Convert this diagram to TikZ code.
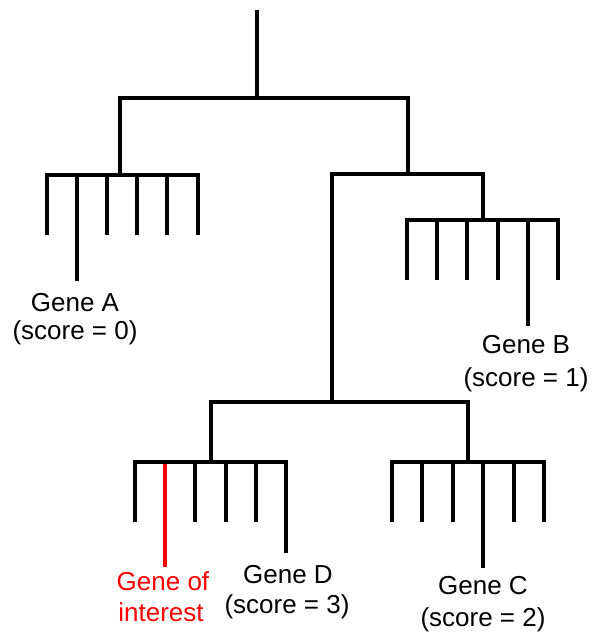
\documentclass[tikz,border=0pt]{standalone}
\usepackage{fontspec}
\setmainfont{Liberation Sans}
\tikzset{
  branch/.style={draw=black, line width=4pt, line join=miter, line cap=butt},
  hlbranch/.style={draw=red, line width=4pt, line cap=butt},
  lbl/.style={font=\fontsize{26}{30}\selectfont, inner sep=0pt, anchor=base},
  hllbl/.style={lbl, text=red},
}
% a comb of six leaves hanging from a bar; #1 = left x, #2 = spacing, #3 = bar y, #4 = leaf end y
\newcommand{\leafcomb}[4]{%
  \draw[branch] (#1,#4) -- (#1,#3) -- ({#1+5*#2},#3) -- ({#1+5*#2},#4);
  \foreach \k in {1,...,4} \draw[branch] ({#1+\k*#2},#3) -- ({#1+\k*#2},#4);
}
\begin{document}
\begin{tikzpicture}[x=1pt, y=-1pt]
\useasboundingbox (0,0) rectangle (594,633);

% internal nodes of the tree
\coordinate (top)   at (257,10);
\coordinate (root)  at (257,98);
\coordinate (cA)    at (120,175);
\coordinate (n2)    at (408,174);
\coordinate (cB)    at (483,220);
\coordinate (n3)    at (332,402);
\coordinate (cD)    at (211,462);
\coordinate (cC)    at (468,462);

% backbone
\draw[branch] (top) -- (root);
\draw[branch] (cA) -- (cA |- root) -- (n2 |- root) -- (n2);
\draw[branch] (n3) -- (n3 |- n2) -- (cB |- n2) -- (cB);
\draw[branch] (cD) -- (cD |- n3) -- (cC |- n3) -- (cC);

% leaf combs
\leafcomb{47}{30.1}{175}{235}
\leafcomb{407}{30.2}{220}{280}
\leafcomb{135}{30.2}{462}{522}
\leafcomb{392}{30.4}{462}{522}

% leaves that are named genes
\coordinate (lA)  at (77,235);   \coordinate (eA)  at (77,281);
\coordinate (lB)  at (528,280);  \coordinate (eB)  at (528,326);
\coordinate (lD)  at (286,522);  \coordinate (eD)  at (286,553);
\coordinate (lC)  at (483,522);  \coordinate (eC)  at (483,568);
\coordinate (lG)  at (165,464);  \coordinate (eG)  at (165,567);
\draw[branch] (lA) -- (eA);
\draw[branch] (lB) -- (eB);
\draw[branch] (lD) -- (eD);
\draw[branch] (lC) -- (eC);
\draw[hlbranch] (lG) -- (eG);

% labels
\node[lbl] (geneA)  at (75,311)  {Gene A};
\node[lbl] (scoreA) at (75,339)  {(score = 0)};
\node[lbl] (geneB)  at (526,353) {Gene B};
\node[lbl] (scoreB) at (526,386) {(score = 1)};
\node[hllbl] (geneG) at (163,590) {Gene of};
\node[hllbl] (intG)  at (161,621) {interest};
\node[lbl] (geneD)  at (288,583) {Gene D};
\node[lbl] (scoreD) at (287,613) {(score = 3)};
\node[lbl] (geneC)  at (483,594) {Gene C};
\node[lbl] (scoreC) at (483,626) {(score = 2)};
\end{tikzpicture}
\end{document}
